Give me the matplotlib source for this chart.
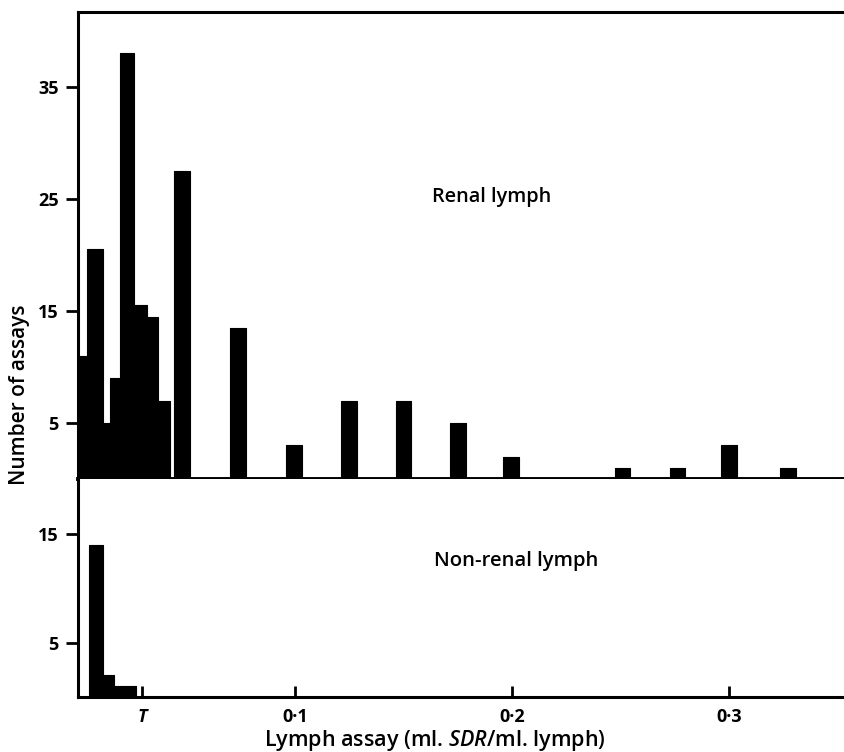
import matplotlib.pyplot as plt

plt.rcParams['font.family'] = ['Open Sans', 'DejaVu Sans']
plt.rcParams['mathtext.fontset'] = 'custom'
plt.rcParams['mathtext.rm'] = 'Open Sans:semibold'
plt.rcParams['mathtext.it'] = 'Open Sans:italic:semibold'

# renal lymph: low-value cluster (histogram bins, ml. SDR/ml. lymph)
renal_edges = [0.0, 0.0041, 0.0115, 0.0147, 0.0194, 0.0258, 0.0318, 0.0369, 0.0424]
renal_counts = [11, 20.5, 5, 9, 38, 15.5, 14.5, 7]
# renal lymph: spread-out assay values
renal_assay = [0.0479, 0.0737, 0.0995, 0.125, 0.150, 0.175, 0.1995, 0.251, 0.2763, 0.300, 0.3272]
renal_assay_counts = [27.5, 13.5, 3, 7, 7, 5, 2, 1, 1, 3, 1]

# non-renal lymph bins
nonrenal_edges = [0.0051, 0.0115, 0.0166, 0.0217, 0.0267]
nonrenal_counts = [14, 2, 1, 1]

T_value = 0.0295
x_ticks = [T_value, 0.1, 0.2, 0.3]
x_labels = ['T', '0\u00b71', '0\u00b72', '0\u00b73']

fig = plt.figure(figsize=(8.44, 7.52), dpi=100)
W, H = 844, 752
x0, x1 = 78, 852
px_per_unit = 2170
ax1 = fig.add_axes([x0 / W, 1 - 479 / H, (x1 - x0) / W, (479 - 12) / H])
ax2 = fig.add_axes([x0 / W, 1 - 697 / H, (x1 - x0) / W, (697 - 479) / H])

xmax = (x1 - x0) / px_per_unit

def hist_bars(ax, edges, counts):
    lefts = edges[:-1]
    widths = [b - a for a, b in zip(edges[:-1], edges[1:])]
    ax.bar(lefts, counts, width=widths, align='edge', color='black',
           edgecolor='black', linewidth=0.8, joinstyle='round')

hist_bars(ax1, renal_edges, renal_counts)
ax1.bar(renal_assay, renal_assay_counts, width=0.0072, color='black',
        edgecolor='black', linewidth=0.8, joinstyle='round')
hist_bars(ax2, nonrenal_edges, nonrenal_counts)

ax1.set_xlim(0, xmax)
ax1.set_ylim(0, 41.7)
ax2.set_xlim(0, xmax)
ax2.set_ylim(0, 20.1)

ax1.set_yticks([5, 15, 25, 35])
ax2.set_yticks([5, 15])
ax1.set_xticks([])
ax2.set_xticks(x_ticks)
ax2.set_xticklabels(x_labels)

for ax in (ax1, ax2):
    ax.spines['right'].set_visible(False)
    ax.tick_params(axis='y', direction='out', length=9, width=2, pad=5,
                   labelsize=13)
    for lab in ax.get_yticklabels():
        lab.set_fontweight('bold')
    for s in ax.spines.values():
        s.set_linewidth(2.2)

ax1.spines['bottom'].set_linewidth(2.8)
ax2.spines['top'].set_visible(False)
ax2.tick_params(axis='x', direction='in', length=8, width=2, pad=8,
                labelsize=13)
for lab in ax2.get_xticklabels():
    lab.set_fontweight('bold')
ax2.get_xticklabels()[0].set_fontstyle('italic')

ax1.text((492 - x0) / px_per_unit, 24.7, 'Renal lymph', ha='center',
         va='baseline', fontsize=14.3, fontweight='semibold')
ax2.text((516 - x0) / px_per_unit, 12.1, 'Non-renal lymph', ha='center',
         va='baseline', fontsize=14.6, fontweight='semibold')

fig.text(20 / W, 1 - 395 / H, 'Number of assays', rotation=90,
         ha='center', va='center', fontsize=15, fontweight='semibold')
fig.text(435 / W, 1 - 746 / H, 'Lymph assay (ml. $\\it{SDR}$/ml. lymph)',
         ha='center', va='baseline', fontsize=15.5, fontweight='semibold')

fig.savefig('out.png', dpi=100)
